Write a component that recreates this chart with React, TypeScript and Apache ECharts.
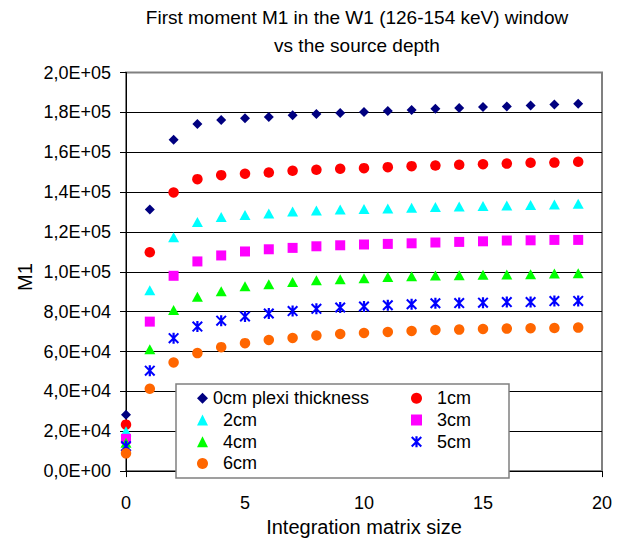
import React, { useEffect, useRef } from 'react';
import * as echarts from 'echarts';

const matrixSizes = [0, 1, 2, 3, 4, 5, 6, 7, 8, 9, 10, 11, 12, 13, 14, 15, 16, 17, 18, 19];

const seriesNames = ['0cm plexi thickness', '1cm', '2cm', '3cm', '4cm', '5cm', '6cm'];

const m1Plexi0 = [28300, 131300, 166200, 174200, 176200, 177000, 177700, 178500, 179200, 179700, 180200, 180700, 181200, 181800, 182200, 182700, 183000, 183500, 184000, 184300];
const m1Plexi1 = [23300, 109800, 139800, 146500, 148500, 149200, 149800, 150700, 151200, 151700, 152000, 152500, 153000, 153300, 153700, 154000, 154300, 154700, 154800, 155200];
const m1Plexi2 = [20000, 90700, 117300, 125000, 127500, 128500, 129300, 130200, 130700, 131200, 131500, 131800, 132200, 132500, 132800, 133000, 133300, 133500, 133800, 134200];
const m1Plexi3 = [16200, 75000, 98000, 105200, 108200, 110200, 111300, 112000, 112800, 113300, 113700, 114000, 114300, 114700, 115000, 115300, 115700, 115800, 116000, 116000];
const m1Plexi4 = [14200, 61200, 80800, 87500, 90300, 92800, 93700, 94900, 95700, 96200, 96800, 97400, 97800, 98200, 98300, 98500, 98700, 98800, 99200, 99300];
const m1Plexi5 = [12500, 50400, 66700, 72500, 75500, 77600, 79100, 80300, 81400, 82100, 82600, 83200, 83700, 84200, 84300, 84500, 84800, 84800, 85300, 85400];
const m1Plexi6 = [8900, 41300, 54500, 59200, 62200, 64200, 65800, 66800, 68000, 68800, 69300, 69800, 70300, 70800, 71000, 71300, 71500, 71700, 71800, 72000];

const seriesValues = [m1Plexi0, m1Plexi1, m1Plexi2, m1Plexi3, m1Plexi4, m1Plexi5, m1Plexi6];
const seriesColors = ['#000080', '#FF0000', '#00FFFF', '#FF00FF', '#00FF00', '#0000FF', '#FF6600'];

const STAR_PATH =
  'path://M8,0 L12,0 L12,20 L8,20 Z M2.6,0 L20,17.4 L17.4,20 L0,2.6 Z M17.4,0 L20,2.6 L2.6,20 L0,17.4 Z';
const seriesSymbols = ['diamond', 'circle', 'triangle', 'rect', 'triangle', STAR_PATH, 'circle'];
const seriesSymbolSizes: any[] = [[10, 10], 10.5, [11, 10], [10, 10], [11, 10], [11, 11], 10.5];

const titleLines = ['First moment M1 in the W1 (126-154 keV) window', 'vs the source depth'];
const xAxisTitle = 'Integration matrix size';
const yAxisTitle = 'M1';

const FONT = '"Liberation Sans", Arial, Helvetica, sans-serif';

function sci(v: number): string {
  if (v === 0) return '0,0E+00';
  let e = 0;
  let m = v;
  while (m >= 10) {
    m /= 10;
    e += 1;
  }
  return m.toFixed(1).replace('.', ',') + 'E+' + (e < 10 ? '0' + e : String(e));
}

export default function App() {
  const ref = useRef<HTMLDivElement>(null);

  useEffect(() => {
    document.body.style.margin = '0';
    if (!ref.current) return;
    const chart = echarts.init(ref.current, undefined, { renderer: 'svg' });

    const legendText = {
      fontSize: 18,
      lineHeight: 20,
      color: '#000',
      fontFamily: FONT,
    };

    const option: any = {
      animation: false,
      backgroundColor: '#fff',
      textStyle: { fontFamily: FONT },
      grid: {
        left: 126,
        right: 21,
        top: 72.5,
        bottom: 67.5,
        show: true,
        borderColor: '#808080',
        borderWidth: 2,
        backgroundColor: 'transparent',
      },
      xAxis: {
        type: 'value',
        min: 0,
        max: 20,
        interval: 5,
        name: xAxisTitle,
        nameLocation: 'middle',
        nameGap: 43,
        nameTextStyle: { fontSize: 20, color: '#000', fontFamily: FONT },
        axisLine: { show: true, lineStyle: { color: '#000', width: 1 } },
        axisTick: { show: true, length: 6, lineStyle: { color: '#000' } },
        axisLabel: { fontSize: 18, color: '#000', margin: 23, fontFamily: FONT },
        splitLine: { show: false },
      },
      yAxis: {
        type: 'value',
        min: 0,
        max: 200000,
        interval: 20000,
        axisLine: { show: true, lineStyle: { color: '#000', width: 1 } },
        axisTick: { show: true, length: 6, lineStyle: { color: '#000' } },
        axisLabel: {
          fontSize: 18,
          color: '#000',
          margin: 15,
          fontFamily: FONT,
          formatter: (v: number) => sci(v),
        },
        splitLine: {
          show: true,
          showMinLine: false,
          showMaxLine: false,
          lineStyle: { color: '#000', width: 1 },
        },
      },
      legend: [
        {
          orient: 'vertical',
          left: 197,
          top: 388.3,
          padding: 0,
          itemGap: 1.7,
          itemWidth: 11,
          itemHeight: 11,
          data: [seriesNames[0], seriesNames[2], seriesNames[4], seriesNames[6]],
          formatter: (n: string) => (n === seriesNames[0] ? n : '\u00a0\u00a0' + n),
          textStyle: legendText,
          selectedMode: false,
        },
        {
          orient: 'vertical',
          left: 411,
          top: 388.3,
          padding: 0,
          itemGap: 1.7,
          itemWidth: 11,
          itemHeight: 11,
          data: [seriesNames[1], seriesNames[3], seriesNames[5]],
          formatter: (n: string) => '\u00a0\u00a0' + n,
          textStyle: legendText,
          selectedMode: false,
        },
      ],
      graphic: [
        {
          type: 'rect',
          z: 3,
          shape: { x: 176, y: 384, width: 333, height: 94 },
          style: { fill: '#fff', stroke: '#808080', lineWidth: 1.5 },
          silent: true,
        },
        {
          type: 'text',
          x: 357,
          y: 31,
          z: 5,
          style: {
            text: titleLines.join('\n'),
            fill: '#000',
            fontSize: 19,
            fontFamily: FONT,
            lineHeight: 28,
            align: 'center',
            verticalAlign: 'middle',
            textAlign: 'center',
            textVerticalAlign: 'middle',
          },
        },
        {
          type: 'text',
          x: 24.5,
          y: 277,
          rotation: Math.PI / 2,
          z: 5,
          style: {
            text: yAxisTitle,
            fill: '#000',
            fontSize: 20,
            fontFamily: FONT,
            align: 'center',
            verticalAlign: 'middle',
            textAlign: 'center',
            textVerticalAlign: 'middle',
          },
        },
      ],
      series: seriesNames.map((name, si) => ({
        type: 'scatter',
        name,
        symbol: seriesSymbols[si],
        symbolSize: seriesSymbolSizes[si],
        itemStyle: { color: seriesColors[si], opacity: 1 },
        z: 2 + si * 0.01,
        data: matrixSizes.map((x, i) => [x, seriesValues[si][i]]),
      })),
    };

    chart.setOption(option);
    return () => {
      chart.dispose();
    };
  }, []);

  return <div ref={ref} style={{ width: 623, height: 542 }} />;
}
